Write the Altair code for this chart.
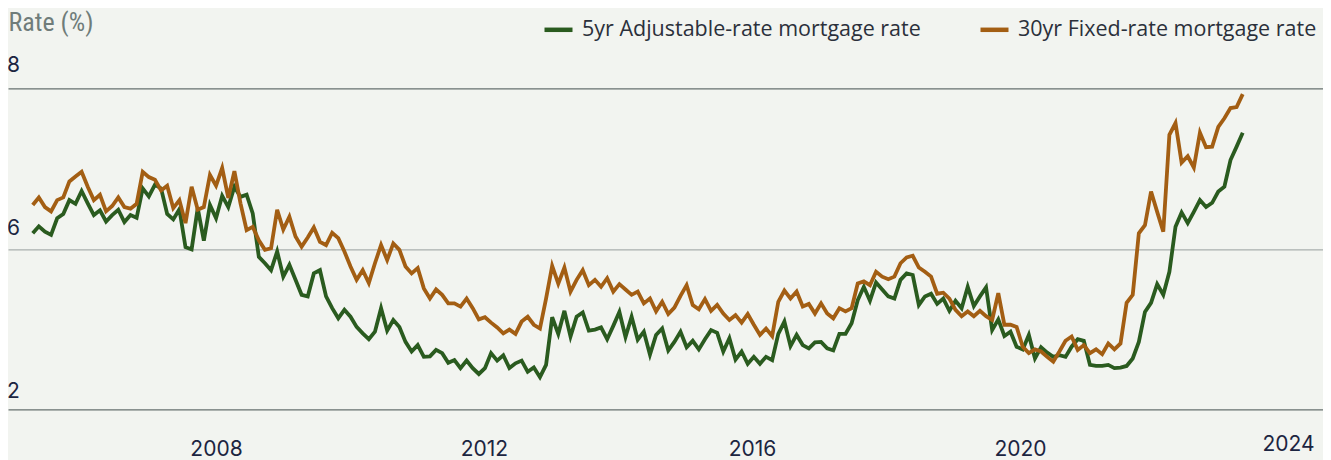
import altair as alt
import numpy as np
import pandas as pd

# ---- data ----
series_names = ["5yr Adjustable-rate mortgage rate", "30yr Fixed-rate mortgage rate"]
series_colors = ["#2a5b1f", "#a35e13"]

arm_5yr = [
    5.29, 5.42, 5.32, 5.26, 5.57, 5.65, 5.91, 5.84, 6.08, 5.85, 5.63, 5.72, 5.51, 5.63, 5.73, 5.50, 5.63,
    5.58, 6.13, 5.98, 6.20, 6.13, 5.65, 5.55, 5.74, 5.03, 4.99, 5.76, 5.15, 5.82, 5.57, 5.99, 5.78,
    6.16, 5.97, 6.01, 5.66, 4.85, 4.73, 4.60, 4.95, 4.48, 4.70, 4.42, 4.14, 4.11, 4.54, 4.60, 4.11, 3.89,
    3.70, 3.86, 3.73, 3.54, 3.42, 3.31, 3.45, 3.89, 3.47, 3.67, 3.54, 3.26, 3.08, 3.20, 2.98, 2.99,
    3.11, 3.05, 2.87, 2.92, 2.77, 2.91, 2.77, 2.66, 2.77, 3.05, 2.91, 3.01, 2.77, 2.86, 2.91, 2.70, 2.78,
    2.60, 2.83, 3.72, 3.41, 3.84, 3.36, 3.73, 3.81, 3.47, 3.49, 3.53, 3.31, 3.56, 3.82, 3.35, 3.73,
    3.30, 3.45, 3.02, 3.39, 3.51, 3.10, 3.26, 3.45, 3.16, 3.28, 3.12, 3.31, 3.48, 3.43, 3.08, 3.33,
    2.93, 3.08, 2.85, 2.98, 2.85, 2.98, 2.92, 3.41, 3.64, 3.18, 3.39, 3.20, 3.14, 3.25, 3.26, 3.14,
    3.10, 3.41, 3.41, 3.61, 4.04, 4.29, 4.03, 4.37, 4.24, 4.11, 4.07, 4.42, 4.54, 4.51, 3.95, 4.11, 4.16,
    3.97, 4.07, 3.84, 4.03, 3.89, 4.29, 3.93, 4.11, 4.28, 3.48, 3.68, 3.37, 3.45, 3.17, 3.12, 3.39,
    2.95, 3.16, 3.06, 2.98, 3.01, 2.98, 3.17, 3.31, 3.28, 2.83, 2.81, 2.81, 2.83, 2.77, 2.78, 2.81, 2.95,
    3.26, 3.82, 3.99, 4.34, 4.14, 4.57, 5.41, 5.68, 5.48, 5.69, 5.91, 5.78, 5.86, 6.07, 6.16, 6.66,
    6.91, 7.17,
]

fixed_30yr = [
    5.82, 5.96, 5.78, 5.70, 5.91, 5.96, 6.26, 6.35, 6.44, 6.16, 5.91, 6.01, 5.70, 5.80, 5.96, 5.78, 5.75,
    5.84, 6.44, 6.34, 6.29, 6.09, 6.18, 5.76, 5.91, 5.48, 6.16, 5.73, 5.78, 6.38, 6.18, 6.51, 5.95,
    6.45, 5.85, 5.35, 5.41, 5.16, 4.98, 5.01, 5.73, 5.36, 5.60, 5.23, 5.04, 5.21, 5.40, 5.13, 5.07, 5.30,
    5.20, 4.95, 4.67, 4.42, 4.60, 4.36, 4.73, 5.07, 4.79, 5.10, 4.98, 4.67, 4.54, 4.64, 4.26, 4.07,
    4.24, 4.14, 3.98, 3.98, 3.92, 4.07, 3.89, 3.68, 3.72, 3.62, 3.53, 3.42, 3.49, 3.41, 3.64, 3.73, 3.58,
    3.51, 4.07, 4.68, 4.35, 4.65, 4.20, 4.42, 4.60, 4.32, 4.42, 4.29, 4.45, 4.20, 4.34, 4.24, 4.14,
    4.20, 3.98, 4.07, 3.83, 4.01, 3.78, 3.90, 4.12, 4.32, 3.95, 3.87, 4.06, 3.84, 3.95, 3.79, 3.67,
    3.76, 3.62, 3.78, 3.58, 3.39, 3.51, 3.37, 4.01, 4.22, 4.07, 4.20, 3.92, 3.97, 3.79, 3.98, 3.79,
    3.70, 3.89, 3.83, 3.89, 4.35, 4.39, 4.32, 4.57, 4.48, 4.43, 4.48, 4.73, 4.84, 4.87, 4.65, 4.57, 4.48,
    4.16, 4.18, 4.07, 3.86, 3.74, 3.83, 3.74, 3.84, 3.74, 3.67, 4.17, 3.58, 3.58, 3.54, 3.17, 3.05,
    3.12, 3.08, 2.98, 2.89, 3.08, 3.28, 3.36, 3.11, 3.20, 3.05, 3.12, 3.03, 3.23, 3.12, 3.23, 3.99, 4.14,
    5.29, 5.44, 6.07, 5.69, 5.32, 7.13, 7.35, 6.61, 6.73, 6.52, 7.17, 6.90, 6.91, 7.28, 7.44, 7.63,
    7.65, 7.89,
]

first_period = 2005.265   # decimal year of first observation
last_period = 2023.324    # decimal year of last observation
year_ticks = [2008, 2012, 2016, 2020, 2024]
rate_ticks = [2, 5, 8]

rows = []
for name, vals in zip(series_names, [arm_5yr, fixed_30yr]):
    periods = np.linspace(first_period, last_period, len(vals))
    for i, (p, v) in enumerate(zip(periods, vals)):
        rows.append({"period": float(p), "rate": v, "series": name, "idx": i})
df = pd.DataFrame(rows)

NAVY = "#1c2541"

chart = (
    alt.Chart(df)
    .mark_line(strokeWidth=3.8)
    .encode(
        x=alt.X(
            "period:Q",
            scale=alt.Scale(domain=[2004.896, 2024.522], nice=False, zero=False),
            axis=alt.Axis(
                values=year_ticks,
                format="d",
                title=None,
                grid=False,
                domain=False,
                ticks=False,
                tickSize=0,
                labelFont="Inter",
                labelFontSize=21,
                labelColor=NAVY,
                labelBaseline="alphabetic",
                labelPadding={"condition": {"test": "datum.value == 2024", "value": 41.5}, "value": 46.7},
                labelFlush=False,
                labelOverlap=False,
            ),
        ),
        y=alt.Y(
            "rate:Q",
            scale=alt.Scale(domain=[2, 8], nice=False, zero=False),
            axis=alt.Axis(
                values=rate_ticks,
                labelExpr="datum.value == 5 ? '6' : datum.label",
                title="Rate (%)",
                titleAngle=0,
                titleX=0,
                titleY=-57.6,
                titleAlign="left",
                titleBaseline="alphabetic",
                titleFont="Liberation Sans Narrow, Roboto Condensed, Roboto",
                titleFontSize=26,
                titleFontWeight="normal",
                titleColor="#6f7c7a",
                domain=False,
                ticks=False,
                tickSize=0,
                grid=True,
                gridColor={"condition": {"test": "datum.value == 5", "value": "#a9afae"}, "value": "#66716f"},
                gridWidth=1.2,
                labelAlign="left",
                labelBaseline="alphabetic",
                labelPadding=1.5,
                labelOffset={
                    "condition": [
                        {"test": "datum.value == 8", "value": -16.6},
                        {"test": "datum.value == 5", "value": -14},
                    ],
                    "value": -11.3,
                },
                labelFont="Inter",
                labelFontSize=21,
                labelColor=NAVY,
            ),
        ),
        color=alt.Color(
            "series:N",
            scale=alt.Scale(domain=series_names, range=series_colors),
            legend=alt.Legend(
                title=None,
                orient="none",
                legendX=534,
                legendY=-75,
                direction="horizontal",
                symbolType="stroke",
                symbolSize=784,
                symbolStrokeWidth=4.5,
                labelFont="Open Sans",
                labelFontSize=21.5,
                labelColor="#2b303b",
                labelOffset=7,
                columnPadding=50,
                labelLimit=0,
            ),
        ),
        order="idx:Q",
    )
    .properties(
        width=1315,
        height=321,
        background="#f2f4f0",
        padding={"left": 0, "top": 80.3, "right": 0, "bottom": 54},
        autosize=alt.AutoSizeParams(type="none"),
    )
    .configure_view(stroke=None)
)

chart.save("out.html", embed_options={"renderer": "svg", "actions": False})
